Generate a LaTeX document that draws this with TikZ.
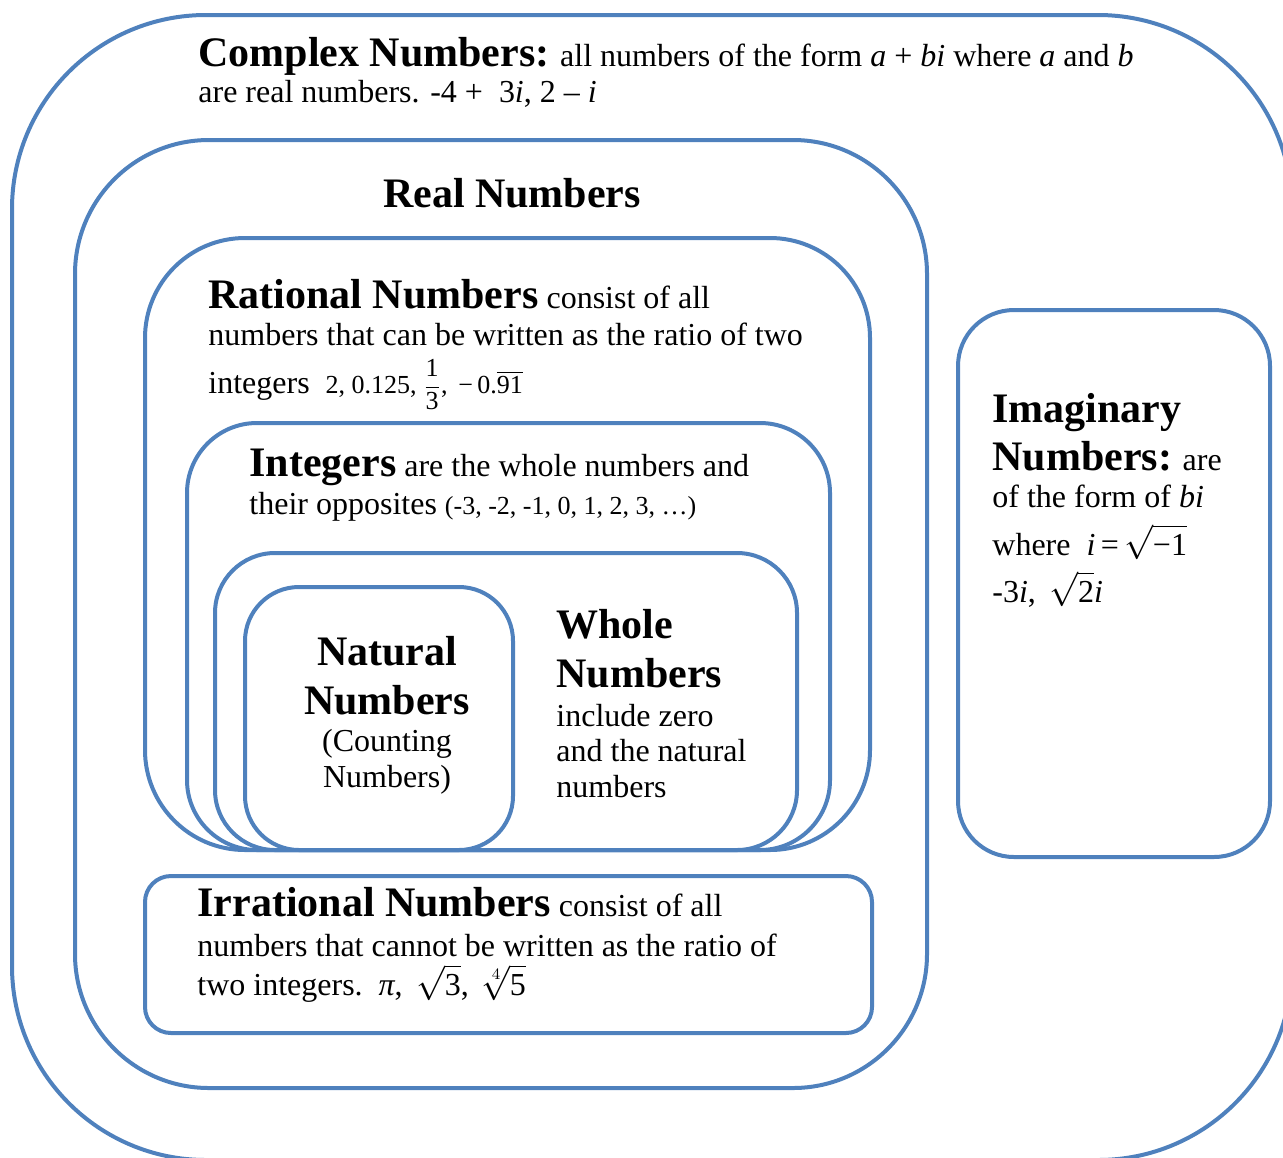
\documentclass[tikz,border=0pt]{standalone}
\usepackage{amsmath}
\usepackage{fontspec}
\setmainfont{Liberation Serif}
\definecolor{boxblue}{HTML}{4F81BD}
\newcommand{\HeadTxt}[1]{{\fontsize{21}{25}\selectfont\bfseries #1}}
\newcommand{\SmallTxt}[1]{{\fontsize{13}{16}\selectfont #1}}
\tikzset{
  setbox/.style={draw=boxblue, line width=2pt},
  hline/.style={anchor=base west, inner sep=0pt, font=\fontsize{21}{25}\selectfont\bfseries},
  bline/.style={anchor=base west, inner sep=0pt, font=\fontsize{16}{19}\selectfont},
  hcline/.style={anchor=base, inner sep=0pt, font=\fontsize{21}{25}\selectfont\bfseries},
  bcline/.style={anchor=base, inner sep=0pt, font=\fontsize{16}{19}\selectfont},
}
\begin{document}
\begin{tikzpicture}[x=0.5pt, y=-0.5pt]
\useasboundingbox (0,0) rectangle (1283,1157);
\clip (0,0) rectangle (1283,1157);
% boxes
\draw[setbox, rounded corners=97pt] (12,15) rectangle (1292,1160);
\draw[setbox, rounded corners=67pt] (75,140) rectangle (927,1088);
\draw[setbox, rounded corners=50pt] (145,238) rectangle (870,850);
\draw[setbox, rounded corners=35pt] (187,423) rectangle (830,850);
\draw[setbox, rounded corners=30pt] (215,553) rectangle (797,850);
\draw[setbox, rounded corners=27pt] (245,587) rectangle (513,850);
\draw[setbox, rounded corners=13pt] (145,876) rectangle (872,1033);
\draw[setbox, rounded corners=28pt] (958,310) rectangle (1270,857);
% Complex
\node[bline] (cx1) at (198,66) {\HeadTxt{Complex Numbers:} all numbers of the form \textit{a} + \textit{bi} where \textit{a} and \textit{b}};
\node[bline] (cx2) at (198,102) {are real numbers. -4 +\ \ 3\textit{i}, 2 – \textit{i}};
% Real
\node[hcline] (re) at (512,207) {Real Numbers};
% Rational
\node[bline] (ra1) at (208,308) {\HeadTxt{Rational Numbers} consist of all};
\node[bline] (ra2) at (208,345) {numbers that can be written as the ratio of two};
\node[bline] (ra3) at (208,393) {integers\ \ \SmallTxt{2, 0.125, $\dfrac{\text{1}}{\text{3}}$, \,−\,0.$\overline{\text{91}}$}};
% Integers
\node[bline] (in1) at (249,476) {\HeadTxt{Integers} are the whole numbers and};
\node[bline] (in2) at (249,514) {their opposites \SmallTxt{(-3, -2, -1, 0, 1, 2, 3, …)}};
% Natural
\node[hcline] (na1) at (387,665) {Natural};
\node[hcline] (na2) at (387,714) {Numbers};
\node[bcline] (na3) at (387,751) {(Counting};
\node[bcline] (na4) at (387,787) {Numbers)};
% Whole
\node[hline] (wh1) at (556,638) {Whole};
\node[hline] (wh2) at (556,687) {Numbers};
\node[bline] (wh3) at (556,726) {include zero};
\node[bline] (wh4) at (556,761) {and the natural};
\node[bline] (wh5) at (556,797) {numbers};
% Imaginary
\node[hline] (im1) at (992,422) {Imaginary};
\node[bline] (im2) at (992,470) {\HeadTxt{Numbers:} are};
\node[bline] (im3) at (992,507) {of the form of \textit{bi}};
\node[bline] (im4) at (992,555) {where\ \ \textit{i}\,=\,$\sqrt{\text{−1}}$};
\node[bline] (im5) at (992,602) {-3\textit{i}, \,$\sqrt{\text{2}}$\textit{i}};
% Irrational
\node[bline] (ir1) at (197,916) {\HeadTxt{Irrational Numbers} consist of all};
\node[bline] (ir2) at (197,956) {numbers that cannot be written as the ratio of};
\node[bline] (ir3) at (197,995) {two integers.\ \ \textit{π}, \,$\sqrt{\text{3}}$, \,$\sqrt[4]{\text{5}}$};
\end{tikzpicture}
\end{document}
